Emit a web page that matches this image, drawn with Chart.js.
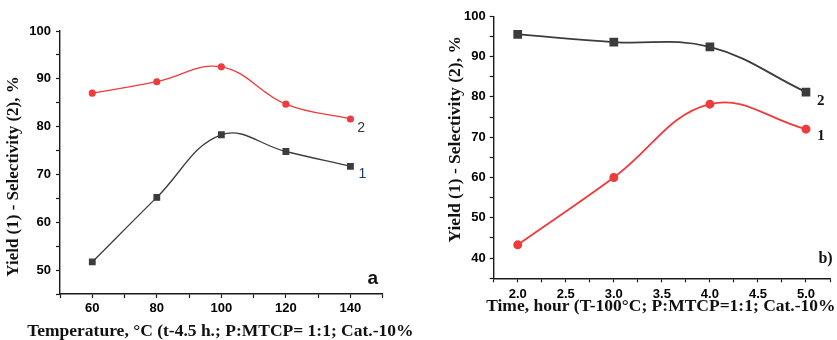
<!DOCTYPE html>
<html>
<head>
<meta charset="utf-8">
<script src="https://cdn.jsdelivr.net/npm/chart.js@4.4.1/dist/chart.umd.min.js"></script>
<style>
  html, body { margin: 0; padding: 0; background: #fff; }
  .pane { position: absolute; top: 0; }
  #paneA { left: 0; }
  #paneB { left: 416px; }
</style>
</head>
<body>
<div class="pane" id="paneA"><canvas id="chartA" width="416" height="340"></canvas></div>
<div class="pane" id="paneB"><canvas id="chartB" width="421" height="340"></canvas></div>
<script>
// ---- panel a: temperature ----
const tempC = [60, 80, 100, 120, 140];
const yieldByTemp = [51.7, 65.2, 78.3, 74.8, 71.7];   // curve 1
const selectByTemp = [87.0, 89.4, 92.5, 84.7, 81.6];  // curve 2
const tempTickLabels = [60, 80, 100, 120, 140];
const yTickLabelsA = [50, 60, 70, 80, 90, 100];

// ---- panel b: time ----
const hours = [2.0, 3.0, 4.0, 5.0];
const yieldByTime = [43.3, 60.0, 78.2, 72.0];         // curve 1
const selectByTime = [95.5, 93.6, 92.4, 81.2];        // curve 2
const hourTickLabels = [2.0, 2.5, 3.0, 3.5, 4.0, 4.5, 5.0];
const yTickLabelsB = [40, 50, 60, 70, 80, 90, 100];

const RED = "#ef3b3b";
const DARK = "#3c3c3c";
const AXIS = "#1a1a1a";

const pts = (xs, ys) => xs.map((x, i) => ({ x, y: ys[i] }));
const has = (list, v) => list.some((t) => Math.abs(t - v) < 1e-6);

// draws free text (curve numbers, panel letter, axis titles)
const notesPlugin = {
  id: "notes",
  afterDraw(chart, args, opts) {
    const ctx = chart.ctx;
    (opts.items || []).forEach((n) => {
      const p = n.at(chart);
      ctx.save();
      ctx.font = n.font;
      ctx.fillStyle = n.color || "#111";
      ctx.textAlign = "center";
      ctx.textBaseline = "middle";
      ctx.translate(p[0], p[1]);
      if (n.rotate) ctx.rotate(n.rotate);
      ctx.fillText(n.text, 0, 0);
      ctx.restore();
    });
  },
};

const lastPx = (chart, dsIndex) => {
  const d = chart.data.datasets[dsIndex].data;
  const last = d[d.length - 1];
  return [chart.scales.x.getPixelForValue(last.x), chart.scales.y.getPixelForValue(last.y)];
};

function axisOpts(min, max, step, labels, fmt, fitSize, tickPad) {
  return {
    type: "linear",
    min, max,
    border: { display: true, color: AXIS, width: 1.4 },
    grid: { drawOnChartArea: false, drawTicks: true, tickLength: 4, color: AXIS, tickWidth: 1.2 },
    ticks: {
      stepSize: step,
      autoSkip: false,
      maxRotation: 0,
      padding: tickPad,
      color: "#000",
      font: { family: "Liberation Sans", weight: "bold", size: 13 },
      callback: (v) => (has(labels, v) ? fmt(v) : ""),
    },
    afterFit: fitSize,
  };
}

// ===== chart a =====
new Chart(document.getElementById("chartA"), {
  type: "line",
  data: {
    datasets: [
      {
        label: "2",
        data: pts(tempC, selectByTemp),
        borderColor: RED, backgroundColor: RED,
        borderWidth: 1.3, tension: 0.4,
        pointStyle: "circle", pointRadius: 2.9,
      },
      {
        label: "1",
        data: pts(tempC, yieldByTemp),
        borderColor: DARK, backgroundColor: DARK,
        borderWidth: 1.3, tension: 0.4,
        pointStyle: "rect", pointRadius: 3.9,
      },
    ],
  },
  options: {
    responsive: false,
    animation: false,
    layout: { padding: { left: 0, top: 31, right: 33.3, bottom: 0 } },
    plugins: {
      legend: { display: false },
      tooltip: { enabled: false },
      notes: {
        items: [
          { text: "2", font: "14px Liberation Sans", color: "#333",
            at: (c) => { const p = lastPx(c, 0); return [p[0] + 10.7, p[1] + 9.4]; } },
          { text: "1", font: "14px Liberation Sans", color: "#1f3d6b",
            at: (c) => { const p = lastPx(c, 1); return [p[0] + 12, p[1] + 7.8]; } },
          { text: "a", font: "bold 19px Liberation Sans", color: "#111",
            at: (c) => [c.chartArea.right - 10, c.chartArea.bottom - 15] },
          { text: "Yield (1) - Selectivity (2), %", font: "bold 17px Liberation Serif", color: "#111",
            rotate: -Math.PI / 2,
            at: (c) => [c.chartArea.left - 46, (c.chartArea.top + c.chartArea.bottom) / 2 + 14] },
          { text: "Temperature, \u00B0C (t-4.5 h.; P:MTCP= 1:1; Cat.-10%", font: "bold 17.5px Liberation Serif", color: "#111",
            at: (c) => [(c.chartArea.left + c.chartArea.right) / 2 - 1, c.chartArea.bottom + 37] },
        ],
      },
    },
    scales: {
      x: axisOpts(50, 150, 10, tempTickLabels, (v) => String(v), (s) => {
        s.height = 46; s.paddingLeft = 0; s.paddingRight = 0;
      }, 3),
      y: axisOpts(45, 100, 5, yTickLabelsA, (v) => String(v), (s) => {
        s.width = 60; s.paddingTop = 0; s.paddingBottom = 0;
      }, 5),
    },
  },
  plugins: [notesPlugin],
});

// ===== chart b =====
new Chart(document.getElementById("chartB"), {
  type: "line",
  data: {
    datasets: [
      {
        label: "2",
        data: pts(hours, selectByTime),
        borderColor: DARK, backgroundColor: DARK,
        borderWidth: 1.8, tension: 0.4,
        pointStyle: "rect", pointRadius: 4.9,
      },
      {
        label: "1",
        data: pts(hours, yieldByTime),
        borderColor: RED, backgroundColor: RED,
        borderWidth: 1.8, tension: 0.4,
        pointStyle: "circle", pointRadius: 3.6,
      },
    ],
  },
  options: {
    responsive: false,
    animation: false,
    layout: { padding: { left: 0, top: 16.3, right: 7, bottom: 0 } },
    plugins: {
      legend: { display: false },
      tooltip: { enabled: false },
      notes: {
        items: [
          { text: "2", font: "bold 15px Liberation Serif", color: "#111",
            at: (c) => { const p = lastPx(c, 0); return [p[0] + 14.7, p[1] + 9.4]; } },
          { text: "1", font: "bold 15px Liberation Serif", color: "#111",
            at: (c) => { const p = lastPx(c, 1); return [p[0] + 15, p[1] + 7.4]; } },
          { text: "b)", font: "bold 16px Liberation Serif", color: "#111",
            at: (c) => [c.chartArea.right - 4.5, c.chartArea.bottom - 19.3] },
          { text: "Yield (1) - Selectivity (2), %", font: "bold 17.5px Liberation Serif", color: "#111",
            rotate: -Math.PI / 2,
            at: (c) => [c.chartArea.left - 38.7, (c.chartArea.top + c.chartArea.bottom) / 2 - 8] },
          { text: "Time, hour (T-100\u00B0C; P:MTCP=1:1; Cat.-10%", font: "bold 17.5px Liberation Serif", color: "#111",
            at: (c) => [(c.chartArea.left + c.chartArea.right) / 2 - 1, c.chartArea.bottom + 28] },
        ],
      },
    },
    scales: {
      x: axisOpts(1.75, 5.25, 0.25, hourTickLabels, (v) => v.toFixed(1), (s) => {
        s.height = 61.7; s.paddingLeft = 0; s.paddingRight = 0;
      }, 4.5),
      y: axisOpts(35, 100, 5, yTickLabelsB, (v) => String(v), (s) => {
        s.width = 77.7; s.paddingTop = 0; s.paddingBottom = 0;
      }, 4),
    },
  },
  plugins: [notesPlugin],
});
</script>
</body>
</html>
